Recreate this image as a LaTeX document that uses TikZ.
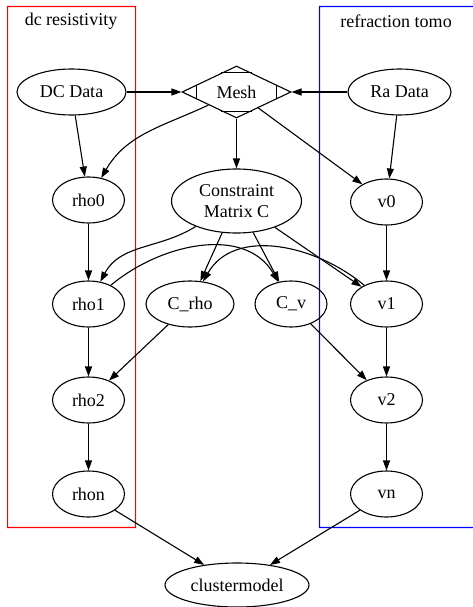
\documentclass[tikz,border=0pt]{standalone}
\usepackage{fontspec}
\setmainfont{Liberation Serif}
\usetikzlibrary{shapes.geometric,arrows.meta,calc}
\tikzset{
  every node/.style={font=\fontsize{18}{21}\selectfont},
  state/.style={draw, ellipse, inner sep=0pt, minimum width=72pt, minimum height=46pt},
  mdiamond/.style={draw, diamond, aspect=2.1, inner sep=0pt, minimum width=109pt, minimum height=52pt},
  link/.style={-{Triangle[length=10pt,width=7pt]}},
  frame/.style={even odd rule},
}
\begin{document}
\begin{tikzpicture}[x=1pt, y=1pt, line width=1.1pt]
    \useasboundingbox (0,0) rectangle (472,-607);
    \begin{scope}[name prefix = dc-]
        \fill[frame, red] (6.8,-5.8) rectangle (136.2,-528.2) (8.2,-7.2) rectangle (134.8,-526.8);
        \node (title) at (71,-21) {dc resistivity};
        \node[state, minimum width=109pt] (data) at (71.5,-92) {DC Data};
        \node[state] (rho0) at (88.5,-200) {rho0};
        \node[state] (rho1) at (88.5,-304) {rho1};
        \node[state] (rho2) at (88.5,-400) {rho2};
        \node[state] (rhon) at (88.5,-494) {rhon};
        \draw[link] (data) -- (rho0);
        \draw[link] (rho0) -- (rho1);
        \draw[link] (rho1) -- (rho2);
        \draw[link] (rho2) -- (rhon);
    \end{scope}
    \begin{scope}[name prefix = ra-]
        \fill[frame, blue] (318.8,-5.8) rectangle (474,-528.2) (320.2,-7.2) rectangle (475,-526.8);
        \node (title) at (396,-21) {refraction tomo};
        \node[state, minimum width=103pt] (data) at (399.5,-92) {Ra Data};
        \node[state] (v0) at (386.5,-202) {v0};
        \node[state] (v1) at (386.5,-304) {v1};
        \node[state] (v2) at (386.5,-400) {v2};
        \node[state] (vn) at (386.5,-494) {vn};
        \draw[link] (data) -- (v0);
        \draw[link] (v0) -- (v1);
        \draw[link] (v1) -- (v2);
        \draw[link] (v2) -- (vn);
    \end{scope}
    % shared nodes
    \node[mdiamond] (mesh) at (236.5,-92) {Mesh};
    \draw ($(mesh.north)!0.28!(mesh.west)$) -- ($(mesh.north)!0.28!(mesh.east)$);
    \draw ($(mesh.south)!0.28!(mesh.west)$) -- ($(mesh.south)!0.28!(mesh.east)$);
    \draw ($(mesh.west)!0.28!(mesh.north)$) -- ($(mesh.west)!0.28!(mesh.south)$);
    \draw ($(mesh.east)!0.28!(mesh.north)$) -- ($(mesh.east)!0.28!(mesh.south)$);
    \node[state, minimum width=130pt, minimum height=64pt, align=center] (cm) at (236.5,-201) {Constraint\\Matrix C};
    \node[state, minimum width=88pt] (crho) at (190,-304) {C\_rho};
    \node[state] (cv) at (291,-304) {C\_v};
    \node[state, minimum width=144pt, minimum height=44pt] (cluster) at (237,-585) {clustermodel};
    % connectors
    \draw[link] (dc-data) -- (mesh);
    \draw[link] (ra-data) -- (mesh);
    \draw[link] (mesh) to[out=205, in=60] (dc-rho0);
    \draw[link] (mesh) -- (cm);
    \draw[link] (mesh) -- (ra-v0);
    \draw[link] (cm) to[out=212, in=62] (dc-rho1);
    \draw[link] (cm) -- (crho);
    \draw[link] (cm) -- (cv);
    \draw[link] (cm) -- (ra-v1);
    \draw[link] (dc-rho1) to[out=40, in=120] (cv);
    \draw[link] (ra-v1) to[out=140, in=60] (crho);
    \draw[link] (crho) -- (dc-rho2);
    \draw[link] (cv) -- (ra-v2);
    \draw[link] (dc-rhon) -- (cluster);
    \draw[link] (ra-vn) -- (cluster);
\end{tikzpicture}
\end{document}
